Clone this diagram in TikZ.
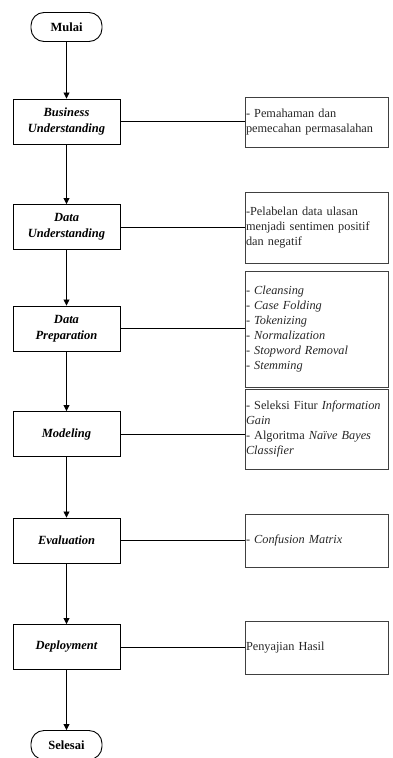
\documentclass[tikz,border=0pt]{standalone}
\usepackage{fontspec}
\setmainfont{Liberation Serif}
\usetikzlibrary{arrows.meta}
\begin{document}
\begin{tikzpicture}[x=1pt,y=-1pt,
  term/.style={draw=black, line width=0.9pt, rounded corners=13pt, minimum width=71pt, minimum height=29pt, inner sep=0pt, font=\fontsize{12.5}{15}\selectfont\bfseries},
  stepbox/.style={draw=black, line width=0.9pt, minimum width=107pt, minimum height=45pt, inner sep=0pt, align=center, font=\fontsize{12.5}{16}\selectfont\bfseries\itshape},
  notebox/.style={draw=black!75, line width=0.9pt, minimum width=143pt, inner xsep=1pt, inner ysep=0pt, text width=141pt, align=left, font=\fontsize{12.3}{15}\selectfont, text=black!85},
  flow/.style={line width=0.8pt, -{Triangle[length=6pt,width=6pt]}},
  link/.style={line width=0.9pt}
]
\useasboundingbox (0,0) rectangle (392,758);
\node[term] (start) at (66.5,27) {Mulai};
\node[stepbox] (bu) at (66.5,121.5) {Business\\Understanding};
\node[stepbox] (du) at (66.5,227) {Data\\Understanding};
\node[stepbox] (dp) at (66.5,328.5) {Data\\Preparation};
\node[stepbox] (mo) at (66.5,434) {Modeling};
\node[stepbox] (ev) at (66.5,540.5) {Evaluation};
\node[stepbox] (de) at (66.5,647) {Deployment};
\node[term] (end) at (66.5,745) {Selesai};

\node[notebox, minimum height=50pt] (r1) at (316.5,122) {- Pemahaman dan\\pemecahan permasalahan};
\node[notebox, minimum height=71pt] (r2) at (316.5,227.5) {-Pelabelan data ulasan\\menjadi sentimen positif\\dan negatif};
\node[notebox, minimum height=116pt] (r3) at (316.5,329) {- \textit{Cleansing}\\- \textit{Case Folding}\\- \textit{Tokenizing}\\- \textit{Normalization}\\- \textit{Stopword Removal}\\- \textit{Stemming}};
\node[notebox, minimum height=80pt] (r4) at (316.5,429) {- Seleksi Fitur \textit{Information}\\\textit{Gain}\\- Algoritma \textit{Naïve Bayes}\\\textit{Classifier}};
\node[notebox, minimum height=53pt] (r5) at (316.5,540.5) {- \textit{Confusion Matrix}};
\node[notebox, minimum height=53pt] (r6) at (316.5,647.5) {Penyajian Hasil};

\draw[flow] (start) -- (bu);
\draw[flow] (bu) -- (du);
\draw[flow] (du) -- (dp);
\draw[flow] (dp) -- (mo);
\draw[flow] (mo) -- (ev);
\draw[flow] (ev) -- (de);
\draw[flow] (de) -- (end);

\draw[link] (bu.east) -- (bu.east -| r1.west);
\draw[link] (du.east) -- (du.east -| r2.west);
\draw[link] (dp.east) -- (dp.east -| r3.west);
\draw[link] (mo.east) -- (mo.east -| r4.west);
\draw[link] (ev.east) -- (ev.east -| r5.west);
\draw[link] (de.east) -- (de.east -| r6.west);
\end{tikzpicture}
\end{document}
